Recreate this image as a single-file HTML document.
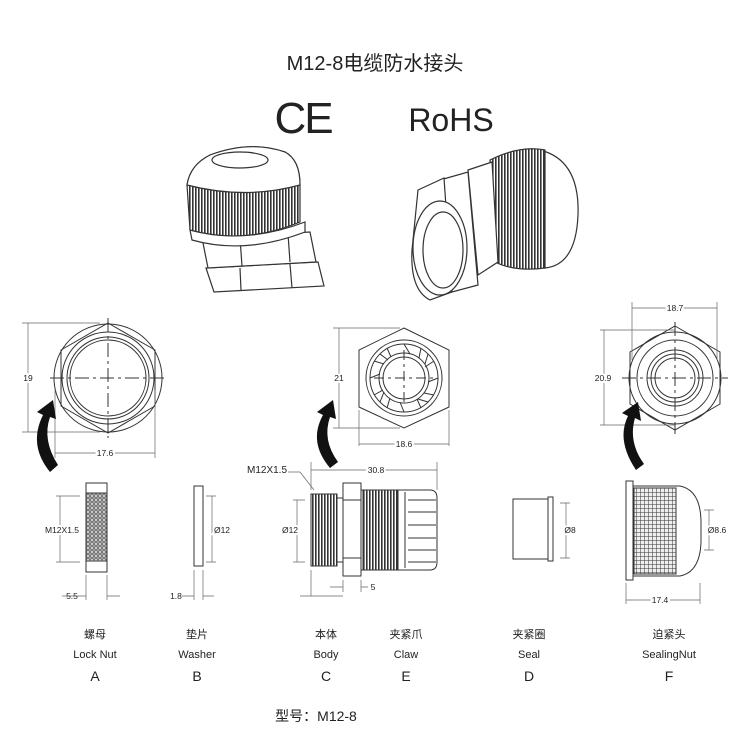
<!DOCTYPE html>
<html><head><meta charset="utf-8"><style>
body{margin:0;background:#fff}
svg{display:block}
text{font-family:"Liberation Sans","Noto Sans CJK SC",sans-serif;fill:#222}
</style></head><body>
<svg width="750" height="750" viewBox="0 0 750 750" xmlns="http://www.w3.org/2000/svg">
<defs>
<pattern id="vh" width="3" height="6" patternUnits="userSpaceOnUse"><rect width="3" height="6" fill="#fff"/><rect width="1.6" height="6" fill="#333"/></pattern>
<pattern id="kn" width="4" height="4" patternUnits="userSpaceOnUse"><rect width="4" height="4" fill="#ddd"/><circle cx="2" cy="2" r="1.3" fill="none" stroke="#444" stroke-width="0.8"/></pattern>
<pattern id="grid" width="4" height="4" patternUnits="userSpaceOnUse"><rect width="4" height="4" fill="#eee"/><path d="M0 0H4M0 0V4" stroke="#333" stroke-width="1"/></pattern>
</defs>
<text x="375" y="70" font-size="20" text-anchor="middle">M12-8电缆防水接头</text>
<text x="303" y="133" font-size="44" text-anchor="middle" style="letter-spacing:-2px">CE</text>
<text x="451" y="131" font-size="32" text-anchor="middle">RoHS</text>

<g fill="#fff" stroke="#333" stroke-width="1.2">
<!-- left 3D -->
<path d="M206 268 L318 262 L324 286 L214 292 Z"/>
<line x1="240" y1="268" x2="241" y2="290"/><line x1="290" y1="264" x2="292" y2="288"/>
<path d="M202 238 L310 232 L316 262 L208 268 Z"/>
<line x1="240" y1="238" x2="242" y2="266"/><line x1="288" y1="234" x2="290" y2="262"/>
<path d="M190 230 Q245 245 305 222 L305 232 Q245 255 192 240 Z"/>
<path d="M187 185 Q190 165 210 155 Q250 140 285 152 Q300 160 300 185 L300 222 Q245 245 190 230 Z" fill="url(#vh)"/>
<path d="M187 185 Q190 165 210 155 Q250 140 285 152 Q300 160 300 185 Q245 200 187 185 Z"/>
<ellipse cx="240" cy="160" rx="28" ry="8"/>
<!-- right 3D -->
<path d="M540 150 Q580 160 578 215 Q576 265 545 268 Z"/>
<path d="M490 160 Q520 145 545 150 L545 268 Q515 272 495 262 Z" fill="url(#vh)"/>
<path d="M468 170 L492 162 L498 262 L478 275 Z"/>
<path d="M440 180 L468 172 L478 285 L452 292 Z"/>
<path d="M418 190 L444 178 L452 292 L430 300 Q410 290 412 250 Z"/>
<ellipse cx="440" cy="248" rx="27" ry="47"/>
<ellipse cx="443" cy="250" rx="20" ry="38"/>
</g>

<g fill="none" stroke="#333" stroke-width="1">
<circle cx="108" cy="378" r="54"/>
<polygon points="108,323 155,350 155,406 108,433 61,406 61,350"/>
<circle cx="108" cy="378" r="46"/>
<circle cx="108" cy="378" r="41"/>
<circle cx="108" cy="378" r="38"/>
<path d="M50 378H166M108 318V438" stroke-dasharray="14 4 3 4"/>
<path d="M22 323H100M22 432H100M28 323V432M55 390V458M155 390V458M55 453H155" stroke="#666" stroke-width="0.7"/>
<polygon points="404,328 449,350 449,407 404,428 359,407 359,350"/>
<circle cx="404" cy="378" r="38"/>
<circle cx="404" cy="378" r="34"/>
<circle cx="404" cy="378" r="25"/>
<circle cx="404" cy="378" r="21"/>
<path d="M404 378m0 -34l6 10M404 378m24 -24l-3 10M404 378m34 0l-10 4M404 378m24 24l-10 -3M404 378m0 34l-4 -10M404 378m-24 24l4 -10M404 378m-34 0l10 -4M404 378m-24 -24l8 6M404 378m17 -30l-2 10M404 378m30 -17l-9 6M404 378m30 17l-10 -2M404 378m17 30l-4 -9M404 378m-17 30l3 -10M404 378m-30 17l9 -5M404 378m-30 -17l10 3M404 378m-17 -30l4 9"/>
<path d="M374 378H434M404 350V406" stroke-dasharray="10 4 3 4"/>
<path d="M333 328H400M333 428H400M339 328V428M359 410V446M449 410V446M359 444H449" stroke="#666" stroke-width="0.7"/>
<circle cx="675" cy="378" r="46"/>
<polygon points="675,326 720,352 720,404 675,430 630,404 630,352"/>
<circle cx="675" cy="378" r="38"/>
<circle cx="675" cy="378" r="28"/>
<circle cx="675" cy="378" r="24"/>
<circle cx="675" cy="378" r="20"/>
<path d="M622 378H728M675 322V434" stroke-dasharray="14 4 3 4"/>
<path d="M632 302V360M717 302V360M632 308H717M600 330H675M600 425H675M604 330V425" stroke="#666" stroke-width="0.7"/>
</g>
<g font-size="8.5" text-anchor="middle">
<text x="28" y="381" stroke="#fff" stroke-width="4" paint-order="stroke">19</text>
<text x="105" y="456" stroke="#fff" stroke-width="4" paint-order="stroke">17.6</text>
<text x="339" y="381" stroke="#fff" stroke-width="4" paint-order="stroke">21</text>
<text x="404" y="447" stroke="#fff" stroke-width="4" paint-order="stroke">18.6</text>
<text x="675" y="311" stroke="#fff" stroke-width="4" paint-order="stroke">18.7</text>
<text x="603" y="381" stroke="#fff" stroke-width="4" paint-order="stroke">20.9</text>
</g>

<g fill="#111">
<path d="M50 472 Q28 445 43 415 L37 412 L53 400 L56 419 L50 417 Q42 440 58 465 Z"/>
<path d="M330 468 Q308 442 323 415 L317 412 L333 400 L336 419 L330 417 Q322 440 338 462 Z"/>
<path d="M636 470 Q616 440 628 416 L622 413 L638 402 L641 421 L635 418 Q628 442 644 464 Z"/>
</g>

<g stroke="#333" stroke-width="1" fill="#fff">
<rect x="86" y="483" width="21" height="89"/>
<rect x="86" y="493" width="21" height="68" fill="url(#kn)"/>
<rect x="194" y="486" width="9" height="80"/>
<rect x="311" y="494" width="26" height="72" fill="url(#vh)"/>
<rect x="337" y="498" width="6" height="64"/>
<rect x="343" y="483" width="18" height="93"/>
<line x1="343" y1="500" x2="361" y2="500"/><line x1="343" y1="558" x2="361" y2="558"/>
<path d="M361 490 H430 Q437 490 437 498 V562 Q437 570 430 570 H361 Z"/>
<path d="M363 490 H398 V570 H363 Z" fill="url(#vh)"/>
<path d="M408 500H436M408 512H436M408 525H436M408 538H436M408 550H436M408 562H436M405 492V568"/>
<rect x="513" y="499" width="35" height="60"/>
<rect x="548" y="497" width="5" height="64"/>
<rect x="626" y="481" width="7" height="99"/>
<path d="M633 486 H680 Q700 490 701 520 V542 Q700 572 680 576 H633 Z"/>
<rect x="634" y="488" width="42" height="86" fill="url(#grid)"/>
</g>
<g fill="none" stroke="#666" stroke-width="0.7">
<path d="M60 496V562M56 496H80M56 562H80"/>
<path d="M86 575V600M107 575V600M62 596H86M107 596H120"/>
<path d="M194 570V600M203 570V600M182 596H194M203 596H214"/>
<path d="M212 496V562M206 496H216M206 562H216"/>
<path d="M311 462V490M437 462V490M311 470H437"/>
<path d="M288 472H300L314 490"/>
<path d="M297 500V562M293 500H305M293 562H305"/>
<path d="M311 570V596M343 580V592M361 580V592M330 587H343M361 587H368M300 596H343"/>
<path d="M566 503V558M560 503H570M560 558H570"/>
<path d="M709 510V550M704 510H714M704 550H714"/>
<path d="M626 583V604M700 583V604M626 600H700"/>
</g>
<g font-size="8.5" text-anchor="middle">
<text x="62" y="533" stroke="#fff" stroke-width="4" paint-order="stroke">M12X1.5</text>
<text x="72" y="599">5.5</text>
<text x="176" y="599">1.8</text>
<text x="222" y="533" stroke="#fff" stroke-width="4" paint-order="stroke">Ø12</text>
<text x="267" y="473" font-size="10">M12X1.5</text>
<text x="290" y="533" stroke="#fff" stroke-width="4" paint-order="stroke">Ø12</text>
<text x="376" y="473" stroke="#fff" stroke-width="4" paint-order="stroke">30.8</text>
<text x="373" y="590">5</text>
<text x="570" y="533" stroke="#fff" stroke-width="4" paint-order="stroke">Ø8</text>
<text x="717" y="533" stroke="#fff" stroke-width="4" paint-order="stroke">Ø8.6</text>
<text x="660" y="603" stroke="#fff" stroke-width="4" paint-order="stroke">17.4</text>
</g>
<g font-size="11" text-anchor="middle">
<text x="95" y="638">螺母</text><text x="95" y="658">Lock Nut</text><text x="95" y="681" font-size="14">A</text>
<text x="197" y="638">垫片</text><text x="197" y="658">Washer</text><text x="197" y="681" font-size="14">B</text>
<text x="326" y="638">本体</text><text x="326" y="658">Body</text><text x="326" y="681" font-size="14">C</text>
<text x="406" y="638">夹紧爪</text><text x="406" y="658">Claw</text><text x="406" y="681" font-size="14">E</text>
<text x="529" y="638">夹紧圈</text><text x="529" y="658">Seal</text><text x="529" y="681" font-size="14">D</text>
<text x="669" y="638">迫紧头</text><text x="669" y="658">SealingNut</text><text x="669" y="681" font-size="14">F</text>
</g>
<text x="316" y="721" font-size="14" text-anchor="middle">型号：M12-8</text>
</svg>
</body></html>
